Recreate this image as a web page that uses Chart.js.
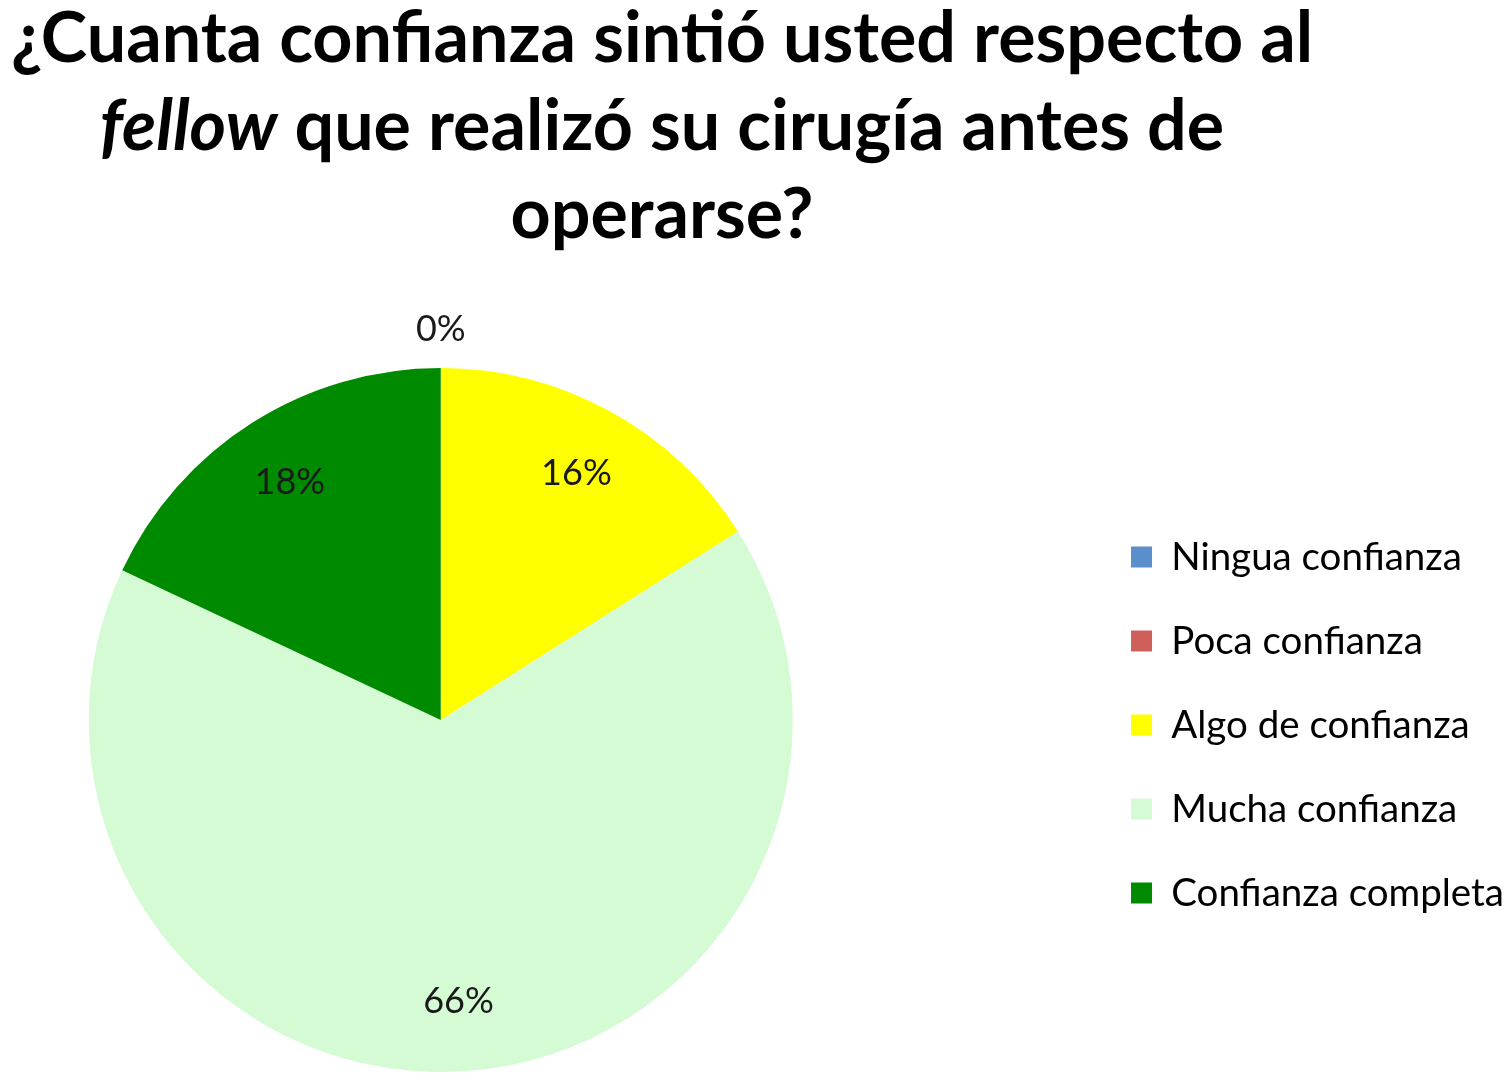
<!DOCTYPE html>
<html>
<head>
<meta charset="utf-8">
<script src="https://cdn.jsdelivr.net/npm/chart.js@4"></script>
<style>
  html, body { margin: 0; padding: 0; background: #fff; overflow: hidden; }
  body { width: 1508px; height: 1079px; position: relative; }
  #title {
    position: absolute; left: 0; top: -9px; width: 1324px;
    text-align: center; font-family: Lato, sans-serif; font-weight: bold;
    font-size: 70px; line-height: 88px; color: #000;
  }
  #chartscreen { position: absolute; top: 0; left: -204px; }
</style>
</head>
<body>
<div id="title">¿Cuanta confianza sintió usted respecto al<br><em>fellow</em> que realizó su cirugía antes de<br>operarse?</div>
<canvas id="chartscreen" width="1718" height="1079"></canvas>
<script>
// answers and their share of patients (percent)
const categories = ["Ningua confianza", "Poca confianza", "Algo de confianza", "Mucha confianza", "Confianza completa"];
const percents = [0, 0, 16, 66, 18];
const colours = ["#5b8fcb", "#cf5f5a", "#ffff00", "#d5fbd5", "#008a00"];

// simple plugin to write the percentage on each slice
const pctLabels = {
  id: 'pctLabels',
  afterDatasetsDraw(chart) {
    const ctx = chart.ctx;
    const arcs = chart.getDatasetMeta(0).data;
    const done = [];
    ctx.save();
    ctx.font = '36px Lato';
    ctx.fillStyle = '#1a1a1a';
    ctx.textAlign = 'center';
    ctx.textBaseline = 'middle';
    for (var i = 0; i < arcs.length; i++) {
      const a = arcs[i].getProps(['x', 'y', 'startAngle', 'endAngle', 'outerRadius'], true);
      const mid = (a.startAngle + a.endAngle) / 2;
      // zero slices go just outside the pie, like the original
      const r = percents[i] == 0 ? a.outerRadius * 1.11 : a.outerRadius * 0.8;
      const x = a.x + Math.cos(mid) * r;
      const y = a.y + Math.sin(mid) * r;
      const key = Math.round(x) + ',' + Math.round(y);
      if (done.includes(key)) continue;
      done.push(key);
      ctx.fillText(percents[i] + '%', x, y);
    }
    ctx.restore();
  }
};

new Chart(document.getElementById('chartscreen'), {
  type: 'pie',
  data: {
    labels: categories,
    datasets: [{
      data: percents,
      backgroundColor: colours,
      borderWidth: 0
    }]
  },
  options: {
    responsive: false,
    animation: false,
    layout: { padding: { top: 368, bottom: 7, left: 0, right: 0 } },
    plugins: {
      tooltip: { enabled: false },
      legend: {
        position: 'right',
        align: 'center',
        // empty title only pushes the items down a little
        title: { display: true, text: '', font: { size: 1 }, padding: { top: 9, bottom: 0 } },
        labels: {
          color: '#000',
          font: { family: 'Lato', size: 38.5 },
          boxWidth: 21,
          boxHeight: 21,
          padding: 45.5
        }
      }
    }
  },
  plugins: [pctLabels]
});
</script>
</body>
</html>
